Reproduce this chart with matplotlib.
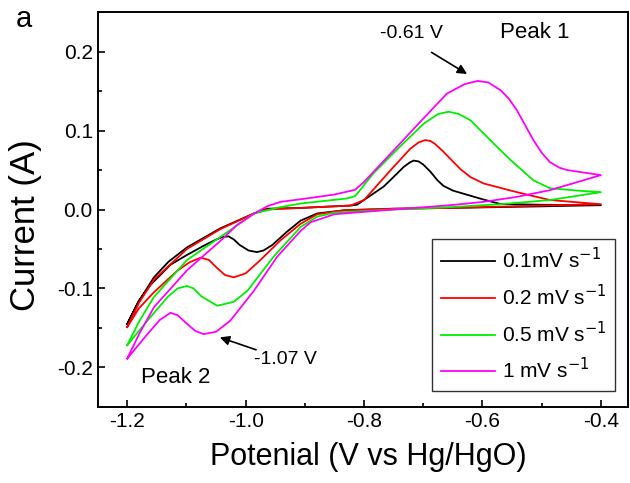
import matplotlib
matplotlib.use('Agg')
import matplotlib.pyplot as plt
from matplotlib.ticker import MultipleLocator

plt.rcParams['font.family'] = ['Liberation Sans', 'DejaVu Sans']
plt.rcParams['axes.unicode_minus'] = False

labels = ['0.1mV s$^{-1}$', '0.2 mV s$^{-1}$', '0.5 mV s$^{-1}$', '1 mV s$^{-1}$']
colors = ['black', '#ff0000', '#00ee00', '#ff00ff']

# anodic sweep (-1.2 -> -0.4) then cathodic sweep (-0.4 -> -1.2)
x_an_01 = [-1.2, -1.18, -1.155, -1.13, -1.099, -1.043, -0.986, -0.964, -0.907, -0.823, -0.812, -0.767,
           -0.745, -0.733, -0.722, -0.716, -0.708, -0.700, -0.688, -0.676, -0.666, -0.650, -0.632,
           -0.600, -0.570, -0.500, -0.400]
y_an_01 = [-0.145, -0.116, -0.086, -0.066, -0.048, -0.024, -0.005, 0.001, 0.002, 0.005, 0.006, 0.029,
           0.045, 0.054, 0.060, 0.062, 0.061, 0.057, 0.048, 0.037, 0.030, 0.024, 0.020,
           0.013, 0.007, 0.006, 0.0055]
x_ca_01 = [-0.400, -0.500, -0.654, -0.750, -0.834, -0.879, -0.907, -0.930, -0.955, -0.970, -0.981,
           -0.995, -1.010, -1.020, -1.029, -1.040, -1.055, -1.071, -1.100, -1.127, -1.160, -1.180, -1.2]
y_ca_01 = [0.0055, 0.004, 0.002, 0.001, -0.001, -0.005, -0.014, -0.028, -0.045, -0.052, -0.054,
           -0.052, -0.045, -0.038, -0.034, -0.035, -0.040, -0.046, -0.058, -0.070, -0.095, -0.115, -0.145]

x_an_02 = [-1.2, -1.18, -1.155, -1.099, -1.043, -0.986, -0.964, -0.907, -0.823, -0.800, -0.755, -0.722,
           -0.708, -0.697, -0.688, -0.680, -0.667, -0.654, -0.637, -0.620, -0.598, -0.542, -0.486, -0.400]
y_an_02 = [-0.149, -0.118, -0.089, -0.050, -0.025, -0.005, 0.0, 0.002, 0.005, 0.012, 0.050, 0.077,
           0.085, 0.088, 0.087, 0.083, 0.074, 0.064, 0.051, 0.041, 0.033, 0.022, 0.012, 0.0067]
x_ca_02 = [-0.400, -0.500, -0.654, -0.750, -0.834, -0.879, -0.907, -0.941, -0.975, -1.000, -1.020,
           -1.035, -1.050, -1.062, -1.076, -1.095, -1.116, -1.155, -1.180, -1.2]
y_ca_02 = [0.0067, 0.005, 0.002, 0.001, -0.001, -0.006, -0.018, -0.039, -0.064, -0.081, -0.086,
           -0.083, -0.073, -0.064, -0.061, -0.067, -0.078, -0.105, -0.125, -0.149]

x_an_05 = [-1.2, -1.18, -1.155, -1.099, -1.043, -0.986, -0.941, -0.907, -0.829, -0.815, -0.784, -0.739,
           -0.699, -0.675, -0.657, -0.640, -0.620, -0.587, -0.553, -0.514, -0.486, -0.440, -0.400]
y_an_05 = [-0.172, -0.142, -0.111, -0.064, -0.035, -0.005, 0.003, 0.0076, 0.014, 0.017, 0.046, 0.080,
           0.109, 0.121, 0.124, 0.121, 0.113, 0.088, 0.063, 0.037, 0.027, 0.024, 0.022]
x_ca_05 = [-0.400, -0.486, -0.570, -0.654, -0.750, -0.850, -0.879, -0.907, -0.953, -0.997, -1.020,
           -1.048, -1.075, -1.088, -1.099, -1.115, -1.132, -1.166, -1.2]
y_ca_05 = [0.022, 0.012, 0.0067, 0.003, 0.0, -0.004, -0.009, -0.022, -0.060, -0.103, -0.117,
           -0.122, -0.110, -0.100, -0.097, -0.100, -0.111, -0.141, -0.172]

x_an_1 = [-1.2, -1.18, -1.155, -1.099, -1.043, -1.015, -0.985, -0.964, -0.941, -0.907, -0.850, -0.815,
          -0.800, -0.755, -0.699, -0.660, -0.630, -0.608, -0.590, -0.569, -0.555, -0.542, -0.528,
          -0.514, -0.500, -0.486, -0.470, -0.457, -0.400]
y_an_1 = [-0.189, -0.158, -0.124, -0.077, -0.040, -0.020, -0.005, 0.004, 0.0097, 0.013, 0.019, 0.025,
          0.035, 0.071, 0.116, 0.147, 0.159, 0.163, 0.161, 0.151, 0.140, 0.126, 0.107,
          0.088, 0.072, 0.060, 0.053, 0.050, 0.0436]
x_ca_1 = [-0.400, -0.486, -0.542, -0.598, -0.654, -0.750, -0.850, -0.890, -0.907, -0.947, -0.986,
          -1.026, -1.050, -1.071, -1.085, -1.099, -1.115, -1.127, -1.145, -1.166, -1.2]
y_ca_1 = [0.0436, 0.0245, 0.016, 0.0097, 0.0055, 0.0, -0.006, -0.016, -0.027, -0.060, -0.103,
          -0.141, -0.155, -0.158, -0.154, -0.145, -0.134, -0.131, -0.140, -0.158, -0.189]

curves = [(x_an_01 + x_ca_01, y_an_01 + y_ca_01),
          (x_an_02 + x_ca_02, y_an_02 + y_ca_02),
          (x_an_05 + x_ca_05, y_an_05 + y_ca_05),
          (x_an_1 + x_ca_1, y_an_1 + y_ca_1)]

fig = plt.figure(figsize=(6.3, 4.83), dpi=100)
ax = fig.add_axes([0.155, 0.158, 0.842, 0.8165])

for (xs, ys), c, lab in zip(curves, colors, labels):
    ax.plot(xs, ys, color=c, lw=1.3, label=lab)

ax.set_xlim(-1.25, -0.354)
ax.set_ylim(-0.25, 0.25)
ax.xaxis.set_major_locator(MultipleLocator(0.2))
ax.xaxis.set_minor_locator(MultipleLocator(0.1))
ax.yaxis.set_major_locator(MultipleLocator(0.1))
ax.yaxis.set_minor_locator(MultipleLocator(0.05))
ax.tick_params(which='both', direction='in', top=False, right=False, labelsize=15)
ax.tick_params(which='major', length=5, width=1.2)
ax.tick_params(which='minor', length=3, width=1.2)
for s in ax.spines.values():
    s.set_linewidth(1.4)

ax.set_xlabel('Potenial (V vs Hg/HgO)', fontsize=22)
ax.set_ylabel('Current (A)', fontsize=25)
ax.xaxis.set_label_coords(0.51, -0.09)
ax.yaxis.set_label_coords(-0.105, 0.46)

ax.annotate('', xy=(-0.622, 0.170), xytext=(-0.690, 0.201),
            arrowprops=dict(arrowstyle='-|>', color='black', lw=1.2, mutation_scale=14))
ax.text(-0.720, 0.223, '-0.61 V', fontsize=14, ha='center', va='center')
ax.text(-0.511, 0.224, 'Peak 1', fontsize=16, ha='center', va='center')
ax.annotate('', xy=(-1.048, -0.161), xytext=(-0.978, -0.179),
            arrowprops=dict(arrowstyle='-|>', color='black', lw=1.2, mutation_scale=14))
ax.text(-0.932, -0.19, '-1.07 V', fontsize=14, ha='center', va='center')
ax.text(-1.118, -0.213, 'Peak 2', fontsize=16, ha='center', va='center')

fig.text(0.038, 0.961, 'a', fontsize=21, ha='center', va='center')

leg = ax.legend(loc='lower right', bbox_to_anchor=(0.9755, 0.04), borderaxespad=0,
                fontsize=15, fancybox=False, edgecolor='black', handlelength=2.6,
                labelspacing=0.55, handletextpad=0.35, borderpad=0.4)
leg.get_frame().set_linewidth(1.0)

fig.savefig('out.png', dpi=100)
